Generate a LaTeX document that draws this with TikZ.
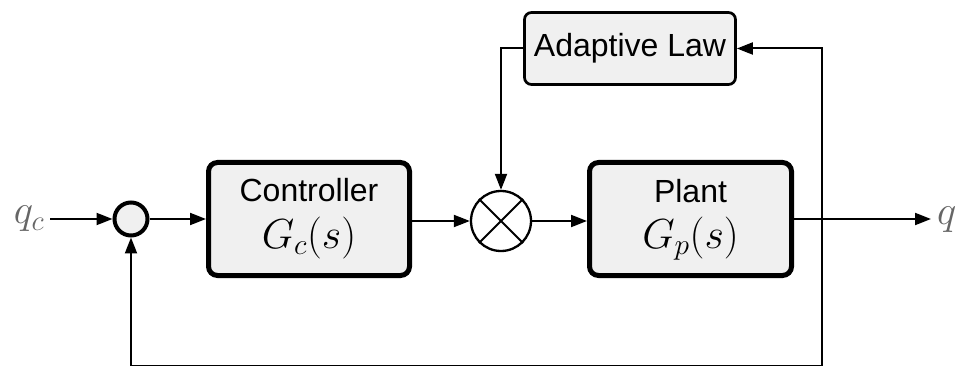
\RequirePackage{fix-cm}
\documentclass[tikz,border=0pt]{standalone}
\usepackage{fontspec}
\newfontfamily\arialfont{Liberation Sans}
\usetikzlibrary{arrows.meta,calc}
\definecolor{boxfill}{HTML}{F0F0F0}
\begin{document}
\begin{tikzpicture}[x=1pt,y=-1pt,
  arr/.style={line width=2pt,-{Triangle[length=16pt,width=12pt]}},
  block/.style={draw,line width=5pt,rounded corners=9pt,fill=boxfill,
    minimum width=201pt,minimum height=113pt,inner sep=0pt},
  lawbox/.style={draw,line width=2.7pt,rounded corners=7pt,fill=boxfill,
    minimum width=211pt,minimum height=72pt,inner sep=0pt,
    font=\fontsize{32}{38}\selectfont\arialfont},
  sumnode/.style={draw,circle,line width=4pt,fill=boxfill,minimum size=33pt,inner sep=0pt},
  multnode/.style={draw,circle,line width=2.3pt,fill=white,minimum size=60pt,inner sep=0pt},
  blocklabel/.style={anchor=base,inner sep=0pt,font=\fontsize{32}{38}\selectfont\arialfont},
  tf/.style={anchor=base,inner sep=0pt,font=\fontsize{42}{50}\selectfont},
  sig/.style={anchor=base,inner ysep=0pt,inner xsep=6pt,text=black!60,font=\fontsize{41}{49}\selectfont}
]
\useasboundingbox (0,0) rectangle (956,366);

% blocks
\node[sumnode] (sum) at (131,219) {};
\node[block] (ctrl) at (309,219) {};
\node[blocklabel] (ctrlname) at (309,202) {Controller};
\node[tf] (ctrltf) at (309,248) {$G_c(s)$};
\node[multnode] (mult) at (501,221) {};
\draw[line width=2pt] (mult.north east) -- (mult.south west)
                      (mult.north west) -- (mult.south east);
\node[block,minimum width=202pt] (plant) at (690.5,219) {};
\node[blocklabel] (plantname) at (690.5,203) {Plant};
\node[tf] (planttf) at (690.5,248) {$G_p(s)$};
\node[lawbox] (law) at (630,48.5) {Adaptive Law};

% signals
\node[sig] (qc) at (29,224) {$q_c$};
\node[sig,anchor=base west] (q) at (931,225) {$q$};

% forward path
\draw[arr] (qc.east |- sum.west) -- (sum.west);
\draw[arr] (sum.east) -- (ctrl.west);
\draw[arr] (ctrl.east |- mult.west) -- (mult.west);
\draw[arr] (mult.east) -- (plant.west |- mult.east);
\draw[arr] (plant.east) -- (q.west |- plant.east);

% adaptive law
\draw[arr] (law.west) -| (mult.north);
\coordinate (tapTop) at (822,48.5);
\coordinate (tapBot) at (822,366.4);
\coordinate (fbBot) at (131,366.4);
\draw[arr] (tapBot) -- (tapTop) -- (law.east);
\draw[arr] (tapBot) -- (fbBot) -- (sum.south);
\end{tikzpicture}
\end{document}
